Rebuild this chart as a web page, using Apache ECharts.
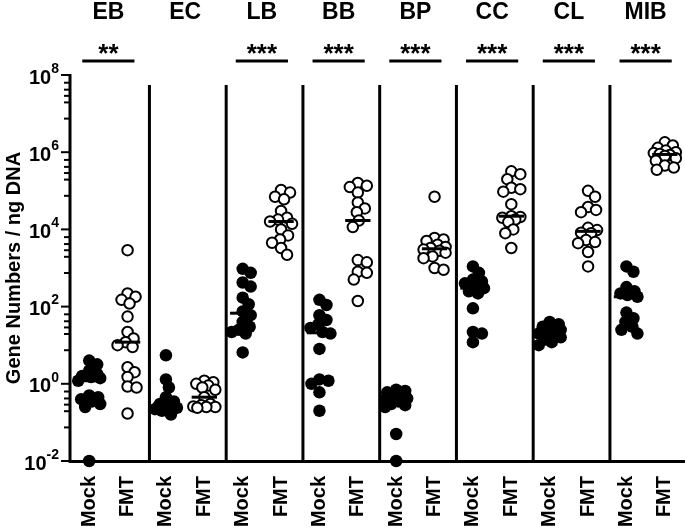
<!DOCTYPE html>
<html><head><meta charset="utf-8">
<script src="https://cdn.jsdelivr.net/npm/echarts@6/dist/echarts.min.js"></script>
<style>html,body{margin:0;padding:0;background:#fff}#c{width:685px;height:531px}</style>
</head><body><div id="c"></div>
<script>
// ---------- data ----------
const groups = ['EB', 'EC', 'LB', 'BB', 'BP', 'CC', 'CL', 'MIB'];
const significance = ['**', '', '***', '***', '***', '***', '***', '***'];
const conditions = ['Mock', 'FMT'];
const yAxisTitle = 'Gene Numbers / ng DNA';
const yLabelExponents = [-2, 0, 2, 4, 6, 8];
const yMinorOffsets = [0.2, 0.38, 0.54, 0.71, 1.13];

const EB_mock = [4.0, 3.2, 2.2, 1.8, 1.6, 1.5, 1.4, 1.2, 0.5, 0.45, 0.4, 0.35, 0.3, 0.25, 0.01];
const EB_fmt = [2900, 220, 180, 150, 120, 55, 22, 15, 12, 10, 9, 2.7, 2.0, 1.5, 0.85, 0.8, 0.17];
const EC_mock = [5.5, 1.3, 0.8, 0.45, 0.35, 0.3, 0.26, 0.24, 0.22, 0.2, 0.16];
const EC_fmt = [1.2, 1.1, 1.0, 0.9, 0.8, 0.7, 0.45, 0.3, 0.28, 0.26, 0.25, 0.25, 0.24];
const LB_mock = [950, 750, 420, 330, 170, 115, 75, 60, 40, 30, 25, 22, 20, 6.5];
const LB_fmt = [105000, 90000, 70000, 60000, 30000, 20000, 18000, 16000, 14000, 10000, 7000, 5500, 4500, 3300, 2200];
const BB_mock = [150, 110, 60, 45, 35, 28, 22, 20, 8, 1.3, 1.2, 1.0, 0.6, 0.2];
const BB_fmt = [160000, 135000, 125000, 90000, 50000, 35000, 28000, 17000, 11500, 1600, 1400, 800, 750, 500, 140];
const BP_mock = [0.7, 0.65, 0.6, 0.5, 0.45, 0.42, 0.4, 0.35, 0.3, 0.28, 0.25, 0.05, 0.01];
const BP_fmt = [70000, 6000, 5500, 5000, 4000, 3500, 3300, 3000, 2800, 2500, 2000, 1800, 1000, 900];
const CC_mock = [1100, 750, 500, 450, 400, 350, 300, 250, 220, 90, 22, 20, 12];
const CC_fmt = [320000, 270000, 200000, 120000, 110000, 95000, 45000, 22000, 21000, 20000, 18000, 15500, 10000, 8000, 3300];
const CL_mock = [40, 35, 30, 28, 25, 22, 20, 18, 16, 14, 12, 10];
const CL_fmt = [100000, 70000, 38000, 32000, 28000, 11000, 9600, 8200, 8000, 5300, 4700, 4400, 2600, 1100];
const MIB_mock = [1100, 800, 320, 250, 220, 200, 180, 70, 50, 40, 30, 25, 20];
const MIB_fmt = [1.8e6, 1.5e6, 1.3e6, 1.1e6, 1.0e6, 950000, 900000, 850000, 800000, 700000, 600000, 450000, 400000, 350000];

const mockSets = [EB_mock, EC_mock, LB_mock, BB_mock, BP_mock, CC_mock, CL_mock, MIB_mock];
const fmtSets = [EB_fmt, EC_fmt, LB_fmt, BB_fmt, BP_fmt, CC_fmt, CL_fmt, MIB_fmt];

// ---------- layout ----------
const W = 685, H = 531;
const gridLeft = 70, gridTop = 75, gridRight = 1, gridBottom = 70;
const yMin = -2, yMax = 8;
const pxPerDecade = (H - gridTop - gridBottom) / (yMax - yMin);
const nCats = groups.length * 2;
const pxPerCat = (W - gridLeft - gridRight) / nCats;
const FONT = '"Liberation Sans", Arial, Helvetica, sans-serif';

function median(a) {
  const s = [...a].sort((x, y) => x - y); const n = s.length;
  return n % 2 ? s[(n - 1) / 2] : (s[n / 2 - 1] + s[n / 2]) / 2;
}
// deterministic beeswarm: horizontal offsets so symbols don't pile up
function swarm(values, minDist, maxOff) {
  const order = values.map((v, i) => i).sort((a, b) => values[b] - values[a]);
  const placed = []; const offs = new Array(values.length);
  order.forEach(i => {
    const y = Math.log10(values[i]) * pxPerDecade;
    let best = 0, bestScore = -1;
    for (let k = 0; k <= maxOff * 2; k++) {
      const off = k === 0 ? 0 : (k % 2 === 1 ? 1 : -1) * Math.ceil(k / 2);
      let dmin = Infinity;
      placed.forEach(p => { const d = Math.hypot(p[0] - off, p[1] - y); if (d < dmin) dmin = d; });
      if (dmin >= minDist) { best = off; bestScore = Infinity; break; }
      if (dmin > bestScore) { bestScore = dmin; best = off; }
    }
    placed.push([best, y]);
    offs[i] = best / pxPerCat;
  });
  return offs;
}

const categories = [];
groups.forEach(() => conditions.forEach(c => categories.push(c)));

const mockPts = [], fmtPts = [], medians = [];
mockSets.forEach((vals, g) => {
  const offs = swarm(vals, 8.5, 11);
  vals.forEach((v, i) => mockPts.push([g * 2 + offs[i], Math.log10(v)]));
  medians.push([g * 2, Math.log10(median(vals))]);
});
fmtSets.forEach((vals, g) => {
  const offs = swarm(vals, 8.5, 11);
  vals.forEach((v, i) => fmtPts.push([g * 2 + 1 + offs[i], Math.log10(v)]));
  medians.push([g * 2 + 1, Math.log10(median(vals))]);
});

const minorTicks = [];
yLabelExponents.forEach(e => yMinorOffsets.forEach(o => { if (e - o >= yMin) minorTicks.push(e - o); }));

const chart = echarts.init(document.getElementById('c'), null, { renderer: 'canvas' });
chart.setOption({
  animation: false,
  backgroundColor: '#fff',
  grid: { left: gridLeft, top: gridTop, right: gridRight, bottom: gridBottom, containLabel: false, outerBoundsMode: 'none' },
  xAxis: [
    {
      type: 'category', data: categories, position: 'bottom', boundaryGap: true,
      axisLine: { onZero: false, lineStyle: { color: '#000', width: 3 } },
      axisTick: { alignWithLabel: true, length: 6, lineStyle: { color: '#000', width: 2 } },
      axisLabel: { interval: 0, rotate: 90, margin: 15, color: '#000', fontSize: 20, fontWeight: 'bold', fontFamily: FONT },
      splitLine: { show: false }
    },
    { type: 'value', min: -0.5, max: nCats - 0.5, show: false, position: 'bottom', axisLine: { onZero: false } }
  ],
  yAxis: [
    {
      type: 'value', min: yMin, max: yMax, position: 'left',
      axisLine: { show: false, onZero: false },
      axisTick: { show: false },
      axisLabel: {
        customValues: yLabelExponents, margin: 11, color: '#000',
        formatter: v => '{b|10}{s|' + v + '}',
        rich: {
          b: { fontSize: 20, fontWeight: 'bold', fontFamily: FONT, color: '#000', padding: [6, 0, 0, 0] },
          s: { fontSize: 14, fontWeight: 'bold', fontFamily: FONT, color: '#000', verticalAlign: 'top' }
        }
      },
      splitLine: { show: false }
    }
  ],
  series: [
    {
      type: 'custom', name: 'yAxisLine', xAxisIndex: 1, yAxisIndex: 0, clip: false, z: 6,
      data: [[-0.5]],
      renderItem: (params, api) => {
        const x = api.value(0);
        const p0 = api.coord([x, yMax]); const p1 = api.coord([x, yMin]);
        const mid = api.coord([x, (yMin + yMax) / 2]);
        const children = [{ type: 'line', shape: { x1: p0[0], y1: p0[1] - 1, x2: p1[0], y2: p1[1] + 1.5 }, style: { stroke: '#000', lineWidth: 3 } }];
        yLabelExponents.forEach(e => {
          const p = api.coord([x, e]);
          children.push({ type: 'line', shape: { x1: p[0] - 9, y1: p[1], x2: p[0], y2: p[1] }, style: { stroke: '#000', lineWidth: 2 } });
        });
        minorTicks.forEach(e => {
          const p = api.coord([x, e]);
          children.push({ type: 'line', shape: { x1: p[0] - 6, y1: p[1], x2: p[0], y2: p[1] }, style: { stroke: '#000', lineWidth: 2 } });
        });
        children.push({
          type: 'text', x: mid[0] - 56, y: mid[1], rotation: Math.PI / 2,
          style: { text: yAxisTitle, x: 0, y: 0, align: 'center', verticalAlign: 'middle', fontSize: 20, fontWeight: 'bold', fontFamily: FONT, fill: '#000' }
        });
        return { type: 'group', children };
      }
    },
    {
      type: 'custom', name: 'separators', xAxisIndex: 1, yAxisIndex: 0, clip: false, z: 1,
      data: groups.slice(1).map((g, i) => [i * 2 + 1.57]),
      renderItem: (params, api) => {
        const x = api.value(0);
        const p0 = api.coord([x, yMax]); const p1 = api.coord([x, yMin]);
        return { type: 'line', shape: { x1: p0[0], y1: p0[1] + 10, x2: p1[0], y2: p1[1] }, style: { stroke: '#000', lineWidth: 3 } };
      }
    },
    {
      type: 'scatter', name: 'Mock', xAxisIndex: 1, yAxisIndex: 0, clip: false, z: 3,
      symbol: 'circle', symbolSize: 12.5, data: mockPts,
      itemStyle: { color: '#000', borderColor: '#000', borderWidth: 0, opacity: 1 }
    },
    {
      type: 'scatter', name: 'FMT', xAxisIndex: 1, yAxisIndex: 0, clip: false, z: 3,
      symbol: 'circle', symbolSize: 10.5, data: fmtPts,
      itemStyle: { color: '#fff', borderColor: '#000', borderWidth: 2, opacity: 1 }
    },
    {
      type: 'custom', name: 'medians', xAxisIndex: 1, yAxisIndex: 0, clip: false, z: 5,
      data: medians,
      renderItem: (params, api) => {
        const x = api.value(0), y = api.value(1);
        const a = api.coord([x - 0.33, y]); const b = api.coord([x + 0.33, y]);
        return { type: 'line', shape: { x1: a[0], y1: a[1], x2: b[0], y2: b[1] }, style: { stroke: '#000', lineWidth: 3 } };
      }
    },
    {
      type: 'custom', name: 'annotations', xAxisIndex: 1, yAxisIndex: 0, clip: false, z: 5,
      data: groups.map((g, i) => [i]),
      renderItem: (params, api) => {
        const gi = api.value(0);
        const cx = gi * 2 + 0.5;
        const top = api.coord([cx, yMax]);
        const l = api.coord([cx - 0.68, yMax]); const r = api.coord([cx + 0.68, yMax]);
        const children = [{
          type: 'text',
          style: { text: groups[gi], x: top[0], y: top[1] - 62, align: 'center', verticalAlign: 'middle', fontSize: 23, fontWeight: 'bold', fontFamily: FONT, fill: '#000' }
        }];
        if (significance[gi]) {
          children.push({ type: 'line', shape: { x1: l[0], y1: top[1] - 14, x2: r[0], y2: top[1] - 14 }, style: { stroke: '#000', lineWidth: 3 } });
          children.push({
            type: 'text',
            style: { text: significance[gi], x: top[0], y: top[1] - 20, align: 'center', verticalAlign: 'middle', fontSize: 26, fontWeight: 'bold', fontFamily: FONT, fill: '#000' }
          });
        }
        return { type: 'group', children };
      }
    }
  ]
});
</script></body></html>
